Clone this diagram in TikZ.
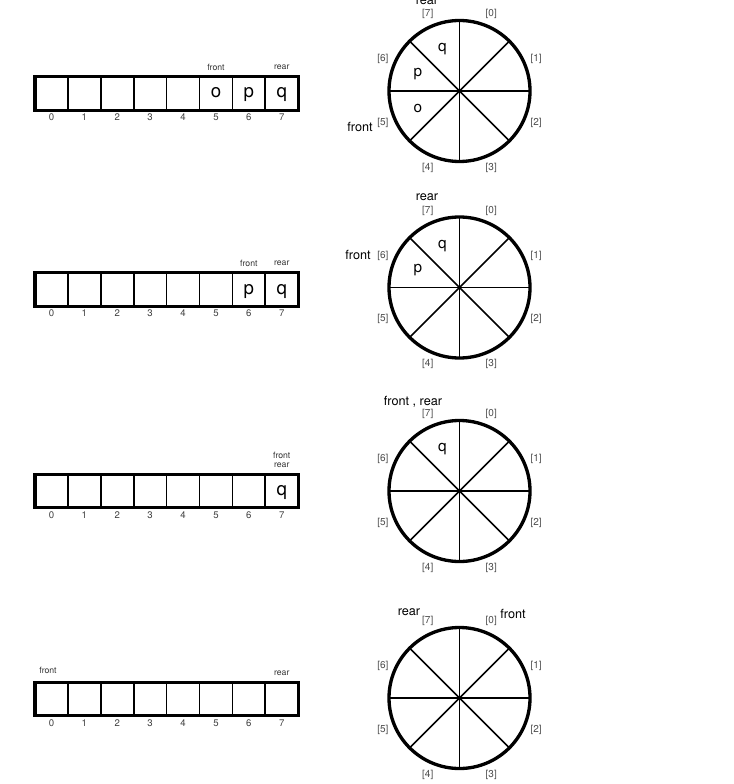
\documentclass[tikz,border=0pt]{standalone}
\usepackage{fontspec}
\setmainfont{TeX Gyre Heros}
\begin{document}
\begin{tikzpicture}[x=0.75pt,y=-0.75pt,
  cell/.style={draw, line width=1.3pt, minimum width=24.675pt, minimum height=25.125pt, inner sep=0pt, outer sep=0pt},
  frame/.style={line width=2.5pt},
  spoke/.style={line width=1.3pt},
  ring/.style={circle, draw, line width=2.5pt, minimum size=105.75pt, inner sep=0pt, outer sep=0pt},
  idx/.style={font=\fontsize{7.2}{7}\selectfont, text=black!75, inner sep=0pt},
  tag/.style={font=\fontsize{6.5}{6.5}\selectfont, text=black!80, inner sep=0pt},
  big/.style={font=\fontsize{14}{14}\selectfont, inner sep=0pt, anchor=base},
  slot/.style={font=\fontsize{7.5}{7.5}\selectfont, text=black!70, inner sep=0pt},
  lab/.style={font=\fontsize{9.5}{10}\selectfont, inner sep=0pt},
  let/.style={font=\fontsize{11.5}{12}\selectfont, inner sep=0pt},
]
\useasboundingbox (0,0) rectangle (734,784);

% ---------- arrays ----------
\foreach \cy [count=\r] in {93.5,289.5,491,699} {
  \foreach \i in {0,...,7} {
    \node[cell] (r\r c\i) at ({35+(\i+0.5)*32.9}, \cy) {};
    \node[idx] (r\r n\i) at ({35+(\i+0.5)*32.9}, \cy+24) {\i};
  }
  \draw[frame] (r\r c0.north west) rectangle (r\r c7.south east);
}
% array contents
\node[big] (v1o) at ({35+5.5*32.9}, 98) {o};
\node[big] (v1p) at ({35+6.5*32.9}, 98) {p};
\node[big] (v1q) at ({35+7.5*32.9}, 98) {q};
\node[big] (v2p) at ({35+6.5*32.9}, 294) {p};
\node[big] (v2q) at ({35+7.5*32.9}, 294) {q};
\node[big] (v3q) at ({35+7.5*32.9}, 495.5) {q};
% array tags
\node[tag] (t1f) at ({35+5.5*32.9}, 67) {front};
\node[tag] (t1r) at ({35+7.5*32.9}, 67) {rear};
\node[tag] (t2f) at ({35+6.5*32.9}, 263) {front};
\node[tag] (t2r) at ({35+7.5*32.9}, 263) {rear};
\node[tag] (t3f) at ({35+7.5*32.9}, 455.5) {front};
\node[tag] (t3r) at ({35+7.5*32.9}, 465) {rear};
\node[tag] (t4f) at (48, 670) {front};
\node[tag] (t4r) at ({35+7.5*32.9}, 673) {rear};

% ---------- circles ----------
\foreach \cy [count=\r] in {91,287.5,491,698} {
  \node[ring] (k\r) at (459.5,\cy) {};
  \draw[spoke] (k\r.0) -- (k\r.180);
  \draw[spoke] (k\r.90) -- (k\r.270);
  \draw[spoke] (k\r.45) -- (k\r.225);
  \draw[spoke] (k\r.135) -- (k\r.315);
  \foreach \i in {0,...,7} {
    \node[slot] (k\r s\i) at ({459.5+83*cos(67.5-45*\i)}, {\cy-83*sin(67.5-45*\i)}) {[\i]};
  }
}
% circle contents
\node[let] (w1q) at ({459.5+45*cos(112.5)}, {91-45*sin(112.5)}) {q};
\node[let] (w1p) at ({459.5+45*cos(157.5)}, {91-45*sin(157.5)}) {p};
\node[let] (w1o) at ({459.5+45*cos(202.5)}, {91-45*sin(202.5)}) {o};
\node[let] (w2q) at ({459.5+45*cos(112.5)}, {287.5-45*sin(112.5)}) {q};
\node[let] (w2p) at ({459.5+45*cos(157.5)}, {287.5-45*sin(157.5)}) {p};
\node[let] (w3q) at ({459.5+45*cos(112.5)}, {491-45*sin(112.5)}) {q};
% circle labels
\node[lab] (l1r) at (427, 1) {rear};
\node[lab, anchor=east] (l1f) at (373, 127) {front};
\node[lab] (l2r) at (427, 197) {rear};
\node[lab, anchor=east] (l2f) at (371, 255) {front};
\node[lab] (l3fr) at (413, 402) {front , rear};
\node[lab] (l4r) at (409, 612) {rear};
\node[lab] (l4f) at (513, 614) {front};
\end{tikzpicture}
\end{document}
